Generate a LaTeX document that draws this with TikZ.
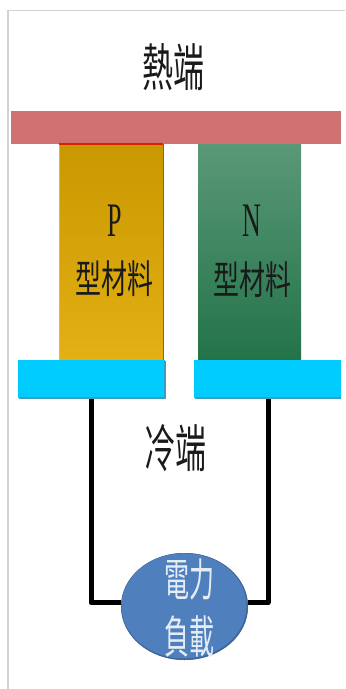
\documentclass[tikz,border=0pt]{standalone}
\usepackage{graphicx}
\usepackage{fontspec}
\setmainfont{Liberation Serif}
\newfontfamily\cjk{Noto Sans CJK TC}
\usetikzlibrary{shapes.geometric,calc}
\definecolor{hotbar}{HTML}{D07272}
\definecolor{coldbar}{HTML}{00CCFF}
\definecolor{coldedge}{HTML}{3E9DB8}
\definecolor{loadblue}{HTML}{4F7FBD}
\definecolor{loadedge}{HTML}{3F6699}
\definecolor{frameg}{HTML}{D2D2D2}
\definecolor{ptop}{HTML}{C99700}
\definecolor{pbot}{HTML}{E3B114}
\definecolor{ntop}{HTML}{5A9878}
\definecolor{nbot}{HTML}{237349}
\definecolor{inkc}{HTML}{1A1A1A}
\definecolor{loadink}{HTML}{E4ECF6}
\newcommand{\tallbox}[2]{\scalebox{1}[#1]{#2}}
\tikzset{
  plate/.style={inner sep=0pt,outer sep=0pt,minimum height=38bp,fill=coldbar,rectangle},
  leg/.style={inner sep=0pt,outer sep=0pt,minimum width=104bp,minimum height=216bp,rectangle,shade},
  lab/.style={text=inkc,inner sep=0pt,font=\cjk\fontsize{31bp}{33bp}\selectfont},
  mat/.style={text=inkc,inner sep=0pt,font=\cjk\fontsize{26bp}{28bp}\selectfont},
  loadtxt/.style={text=loadink,inner sep=0pt,font=\cjk\fontsize{25bp}{28bp}\selectfont},
  letter/.style={inner sep=0pt,text=inkc,font=\fontsize{26bp}{28bp}\selectfont},
  wire/.style={line width=5bp,black,line join=round}
}
\begin{document}
\begin{tikzpicture}[x=1bp,y=-1bp]
\useasboundingbox (0,0) rectangle (345,689);
\fill[white] (0,0) rectangle (345,689);
\draw[frameg,line width=1.2bp] (8,689) -- (8,10.5) -- (345,10.5);
% legs
\node[leg,top color=ptop,bottom color=pbot] (pleg) at (111,252) {};
\node[leg,top color=ntop,bottom color=nbot,minimum width=103bp] (nleg) at (249.5,252) {};
\draw[ptop!70!black,line width=.8bp] (pleg.north east) -- (pleg.south east);
\fill[pbot!90!white] (pleg.north west) rectangle ++(1,216);
% hot plate
\node[inner sep=0pt,outer sep=0pt,fill=hotbar,minimum width=330bp,minimum height=33bp,rectangle] (hot) at (176,127.5) {};
\draw[red!70!orange!85!black,line width=1.5bp] (pleg.north west) -- (pleg.north east);
% wires
\coordinate (lturn) at (91,602.5);
\coordinate (rturn) at (268,602.5);
\coordinate (ltop) at (91,395);
\coordinate (rtop) at (268,395);
\node[ellipse,inner sep=0pt,outer sep=0pt,fill=loadblue,minimum width=127bp,minimum height=107bp] (load) at (184.5,606.5) {};
\draw[wire] (ltop) -- (lturn) -- (load.west |- lturn);
\draw[wire] (rtop) -- (rturn) -- (load.east |- rturn);
\fill[loadedge] (load.center) ellipse [x radius=63.5, y radius=53.5];
\fill[loadblue] ($(load.center)+(-.5,-.6)$) ellipse [x radius=62.5, y radius=52.5];
% cold plates
\node[plate,minimum width=147bp] (cleft) at (91.5,379) {};
\node[plate,minimum width=147bp] (cright) at (267.5,379) {};
\draw[coldedge,line width=2bp] ($(cleft.south west)+(1,-.5)$) -- ($(cleft.south east)+(0,-.5)$) -- ++(0,-37);
\draw[coldedge,line width=2bp] ($(cright.south west)+(1,-.5)$) -- ($(cright.south east)+(0,-.5)$);
% labels
\node[lab] (hotlab) at (173.5,67) {\tallbox{1.65}{熱端}};
\node[lab] (coldlab) at (175,448) {\tallbox{1.65}{冷端}};
\node[letter] (plab) at (114.5,221) {\tallbox{1.85}{P}};
\node[letter] (nlab) at (252,221) {\tallbox{1.85}{N}};
\node[mat] (pmat) at (114.5,279) {\tallbox{1.5}{型材料}};
\node[mat] (nmat) at (252.5,280) {\tallbox{1.5}{型材料}};
\node[loadtxt] (l1) at (189,580) {\tallbox{1.8}{電力}};
\node[loadtxt] (l2) at (189,636) {\tallbox{1.8}{負載}};
\end{tikzpicture}
\end{document}
